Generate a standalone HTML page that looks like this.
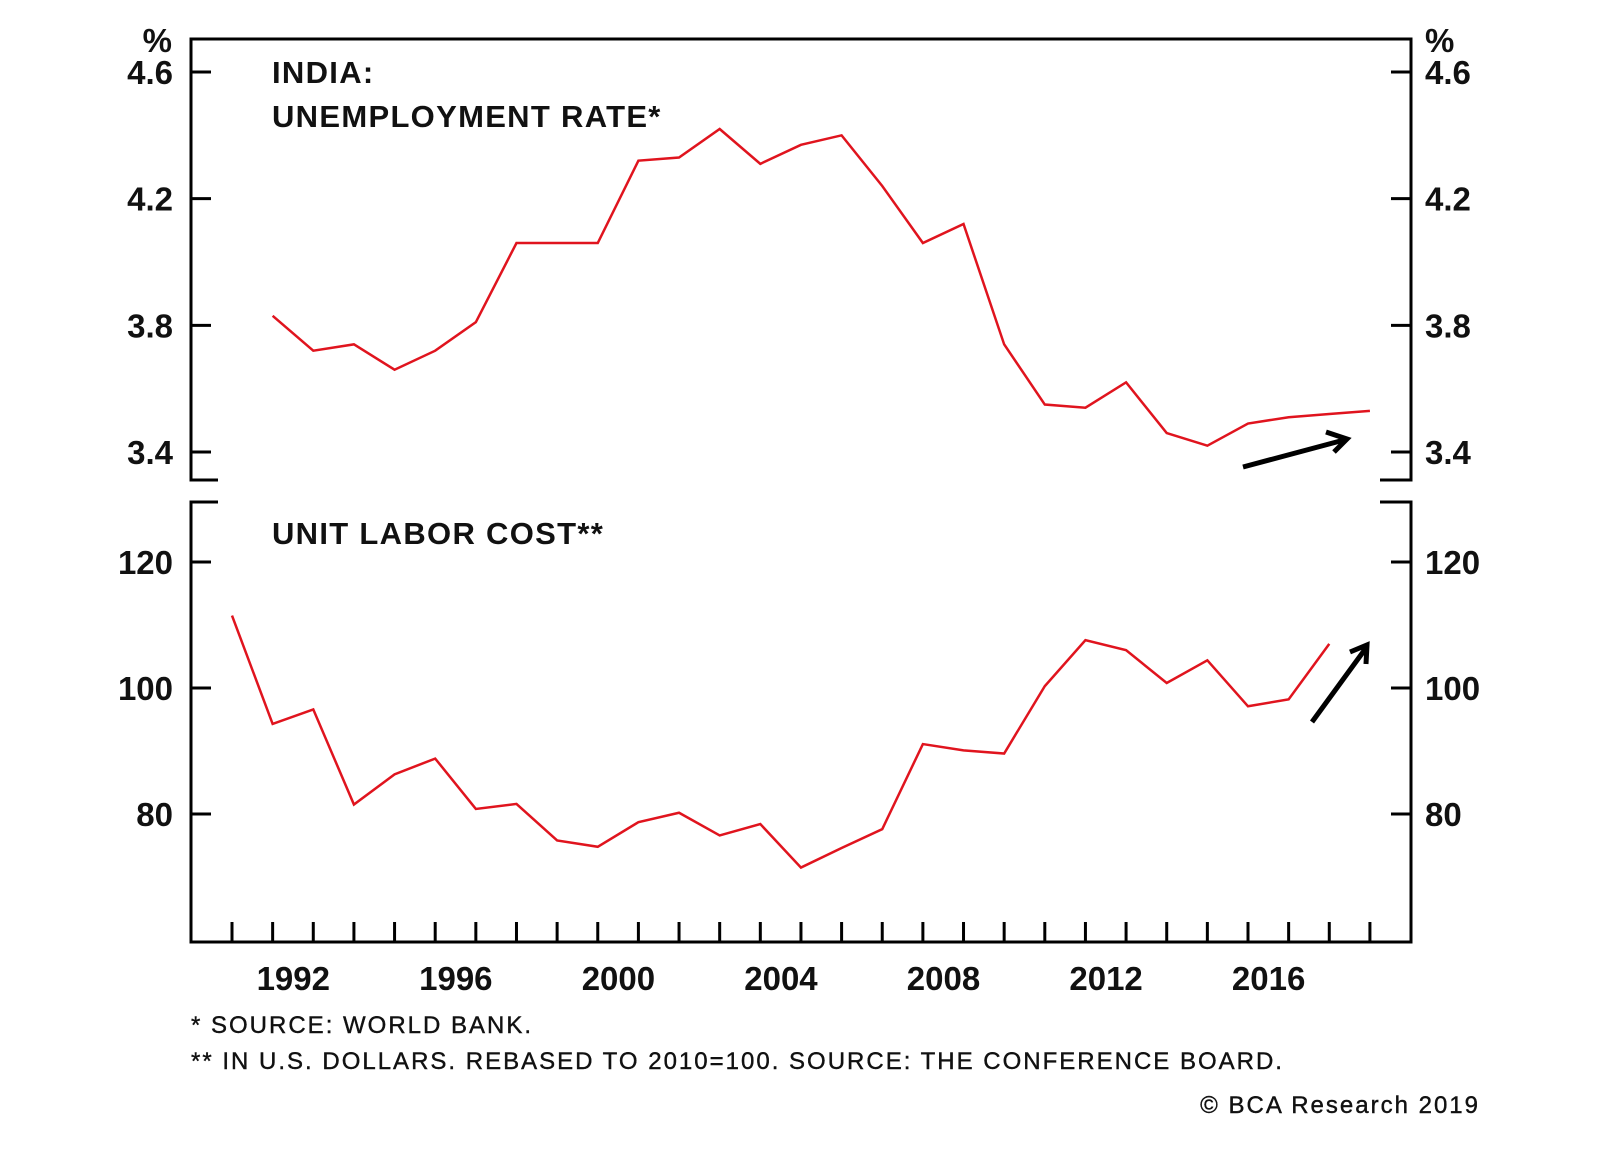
<!DOCTYPE html>
<html><head><meta charset="utf-8"><style>
html,body{margin:0;padding:0;background:#fff;}
svg{display:block;font-family:"Liberation Sans",Arial,sans-serif;}
.tk{font-weight:bold;font-size:33px;fill:#111;}
.ttl{font-weight:bold;font-size:31px;fill:#111;letter-spacing:1.3px;}
.fn{font-size:24px;fill:#111;letter-spacing:2px;stroke:#111;stroke-width:0.4px;}
</style></head><body>
<svg id="chart" width="1600" height="1152" viewBox="0 0 1600 1152">
<g id="frame"></g>
<g id="marks"></g>
<text class="ttl" x="272" y="83">INDIA:</text>
<text class="ttl" x="272" y="127">UNEMPLOYMENT RATE*</text>
<text class="ttl" x="272" y="544">UNIT LABOR COST**</text>
<text class="fn" x="191" y="1033">*  SOURCE: WORLD BANK.</text>
<text class="fn" x="191" y="1069">** IN U.S. DOLLARS. REBASED TO 2010=100. SOURCE: THE CONFERENCE BOARD.</text>
<text class="fn" x="1480" y="1113" text-anchor="end">© BCA Research 2019</text>
</svg>
<script>
const years = [1990,1991,1992,1993,1994,1995,1996,1997,1998,1999,2000,2001,2002,2003,2004,2005,2006,2007,2008,2009,2010,2011,2012,2013,2014,2015,2016,2017,2018];
const unempYears = [1991,1992,1993,1994,1995,1996,1997,1998,1999,2000,2001,2002,2003,2004,2005,2006,2007,2008,2009,2010,2011,2012,2013,2014,2015,2016,2017,2018];
const unempValues = [3.83,3.72,3.74,3.66,3.72,3.81,4.06,4.06,4.06,4.32,4.33,4.42,4.31,4.37,4.40,4.24,4.06,4.12,3.74,3.55,3.54,3.62,3.46,3.42,3.49,3.51,3.52,3.53];
const ulcYears = [1990,1991,1992,1993,1994,1995,1996,1997,1998,1999,2000,2001,2002,2003,2004,2005,2006,2007,2008,2009,2010,2011,2012,2013,2014,2015,2016,2017];
const ulcValues = [111.5,94.3,96.6,81.5,86.3,88.8,80.8,81.6,75.8,74.8,78.7,80.2,76.6,78.4,71.5,74.6,77.6,91.1,90.1,89.6,100.3,107.6,106,100.8,104.4,97.1,98.2,107];
const topTicks = [4.6,4.2,3.8,3.4];
const botTicks = [120,100,80];
const yearLabels = [1992,1996,2000,2004,2008,2012,2016];

const NS="http://www.w3.org/2000/svg";
const L=191,R=1411;
const x=y=>232+(y-1990)*40.64;
const yTop=v=>72+(4.6-v)*316.7;
const yBot=v=>688-(v-100)*6.3;
function mk(tag,attrs,parent){const e=document.createElementNS(NS,tag);for(const k in attrs)e.setAttribute(k,attrs[k]);parent.appendChild(e);return e;}
const fr=document.getElementById('frame'), mg=document.getElementById('marks');
const st={stroke:'#000','stroke-width':3,fill:'none'};
let p=mk('path',Object.assign({d:`M${L+27},480 H${L} V39 H${R} V480 H${R-31}`},st),fr);


p=mk('path',Object.assign({d:`M${L+27},502 H${L} V942 H${R} V502 H${R-31}`},st),fr);


function tickLabel(txt,xx,yy,anchor,name){const t=mk('text',{x:xx,y:yy,'text-anchor':anchor,class:'tk'},fr);t.textContent=txt;}
topTicks.forEach(v=>{const yy=yTop(v);
 const a=mk('path',{d:`M${L},${yy} H${L+20} M${R},${yy} H${R-20}`,stroke:'#000','stroke-width':3},fr);
 
 tickLabel(v.toFixed(1),173,yy+12,'end','top-left-y-label');
 tickLabel(v.toFixed(1),1425,yy+12,'start','top-right-y-label');});
tickLabel('%',172,52,'end','top-left-unit');
tickLabel('%',1425,52,'start','top-right-unit');
botTicks.forEach(v=>{const yy=yBot(v);
 const a=mk('path',{d:`M${L},${yy} H${L+20} M${R},${yy} H${R-20}`,stroke:'#000','stroke-width':3},fr);
 
 tickLabel(String(v),173,yy+12,'end','bottom-left-y-label');
 tickLabel(String(v),1425,yy+12,'start','bottom-right-y-label');});
years.forEach(y=>{const a=mk('path',{d:`M${x(y)},942 V922`,stroke:'#000','stroke-width':3},fr);
 });
yearLabels.forEach(y=>tickLabel(String(y),x(y)-20,990,'middle','x-axis-label'));
let l=mk('polyline',{points:unempYears.map((y,i)=>x(y)+','+yTop(unempValues[i])).join(' '),stroke:'#e0141e','stroke-width':2.5,fill:'none'},mg);


l=mk('polyline',{points:ulcYears.map((y,i)=>x(y)+','+yBot(ulcValues[i])).join(' '),stroke:'#e0141e','stroke-width':2.5,fill:'none'},mg);


let ar=mk('path',{d:'M1243,467 L1344,440 M1326,432 L1347,439 L1334,452',stroke:'#000','stroke-width':5,fill:'none'},mg);


ar=mk('path',{d:'M1312,722 L1366,648 M1350,652 L1367,645 L1366,664',stroke:'#000','stroke-width':5,fill:'none'},mg);


</script>
</body></html>
